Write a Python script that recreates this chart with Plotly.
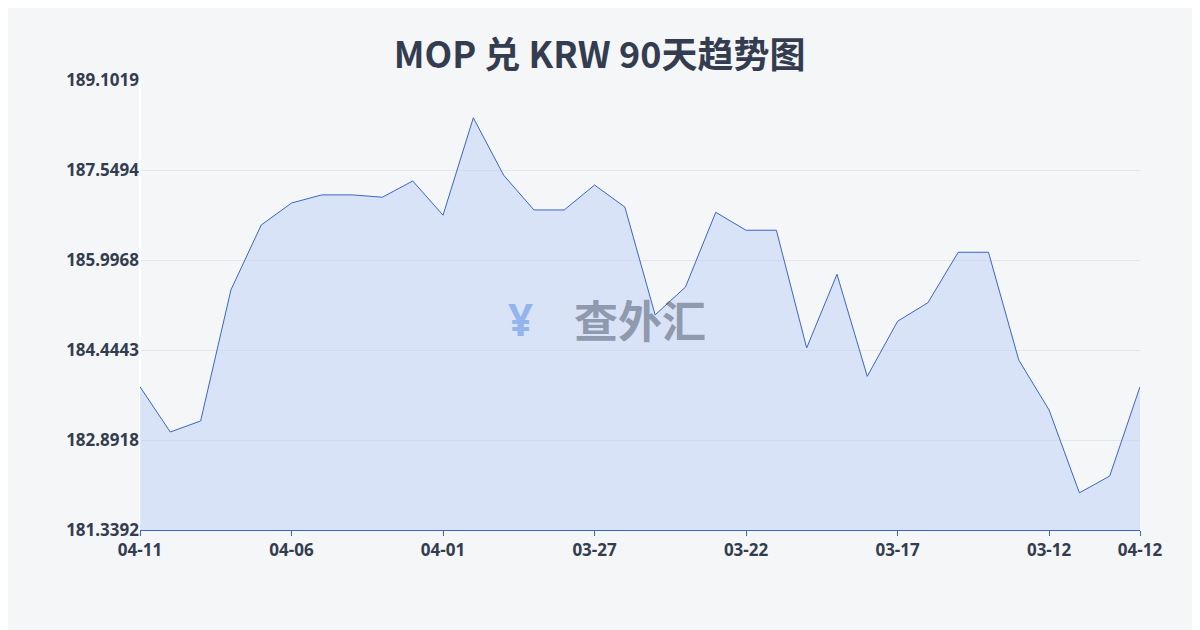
import plotly.graph_objects as go

dates = ["04-11","04-10","04-09","04-08","04-07","04-06","04-05","04-04","04-03","04-02",
         "04-01","03-31","03-30","03-29","03-28","03-27","03-26","03-25","03-24","03-23",
         "03-22","03-21","03-20","03-19","03-18","03-17","03-16","03-15","03-14","03-13",
         "03-12","03-11","03-10","04-12"]
values = [183.81,183.03,183.22,185.48,186.60,186.98,187.12,187.12,187.08,187.36,
          186.77,188.45,187.46,186.86,186.86,187.29,186.91,185.05,185.53,186.82,
          186.51,186.51,184.48,185.75,183.99,184.94,185.26,186.13,186.13,184.27,
          183.41,181.98,182.27,183.81]
tick_labels = ["04-11","04-06","04-01","03-27","03-22","03-17","03-12","04-12"]
y_ticks = [181.3392,182.8918,184.4443,185.9968,187.5494,189.1019]

fig = go.Figure(go.Scatter(
    x=list(range(len(dates))), y=values, mode="lines",
    line=dict(color="#3a66c4", width=1),
    fill="tozeroy", fillcolor="rgba(190,208,245,0.5)",
    hoverinfo="skip"))

tick_pos = [dates.index(t) if t != "04-12" else len(dates)-1 for t in tick_labels]
fig.update_layout(
    width=1200, height=630,
    margin=dict(l=132, r=68, t=72, b=108),
    paper_bgcolor="#f5f6f8", plot_bgcolor="#f5f6f8",
    title=dict(text="<b>MOP 兑 KRW 90天趋势图</b>", x=0.493, y=0.945, xanchor="center",
               font=dict(size=36, color="#333d4f", family="Noto Sans CJK SC")),
    xaxis=dict(range=[0, len(dates)-1], tickvals=tick_pos,
               ticktext=[f"<b>{t}</b>" for t in tick_labels],
               showgrid=False, showline=True, linecolor="#3a66c4", ticks="outside",
               ticklen=5, tickcolor="#3a66c4",
               tickfont=dict(size=17, color="#333d4f", family="Noto Sans")),
    yaxis=dict(range=[181.3392, 189.1019], tickvals=y_ticks,
               ticktext=[f"<b>{v:.4f}</b>" for v in y_ticks],
               showgrid=True, gridcolor="#e3e6ea", zeroline=False,
               tickfont=dict(size=17, color="#333d4f", family="Noto Sans")),
    showlegend=False,
    annotations=[dict(text="<b>¥</b>", x=0.38, y=0.47, xref="paper", yref="paper",
                      showarrow=False, font=dict(size=44, color="rgba(100,150,230,0.6)")),
                 dict(text="<b>查外汇</b>", x=0.5, y=0.47, xref="paper", yref="paper",
                      showarrow=False, font=dict(size=44, color="rgba(80,90,110,0.55)",
                                                 family="Noto Sans CJK SC"))]
)
fig.write_html("out.html")
